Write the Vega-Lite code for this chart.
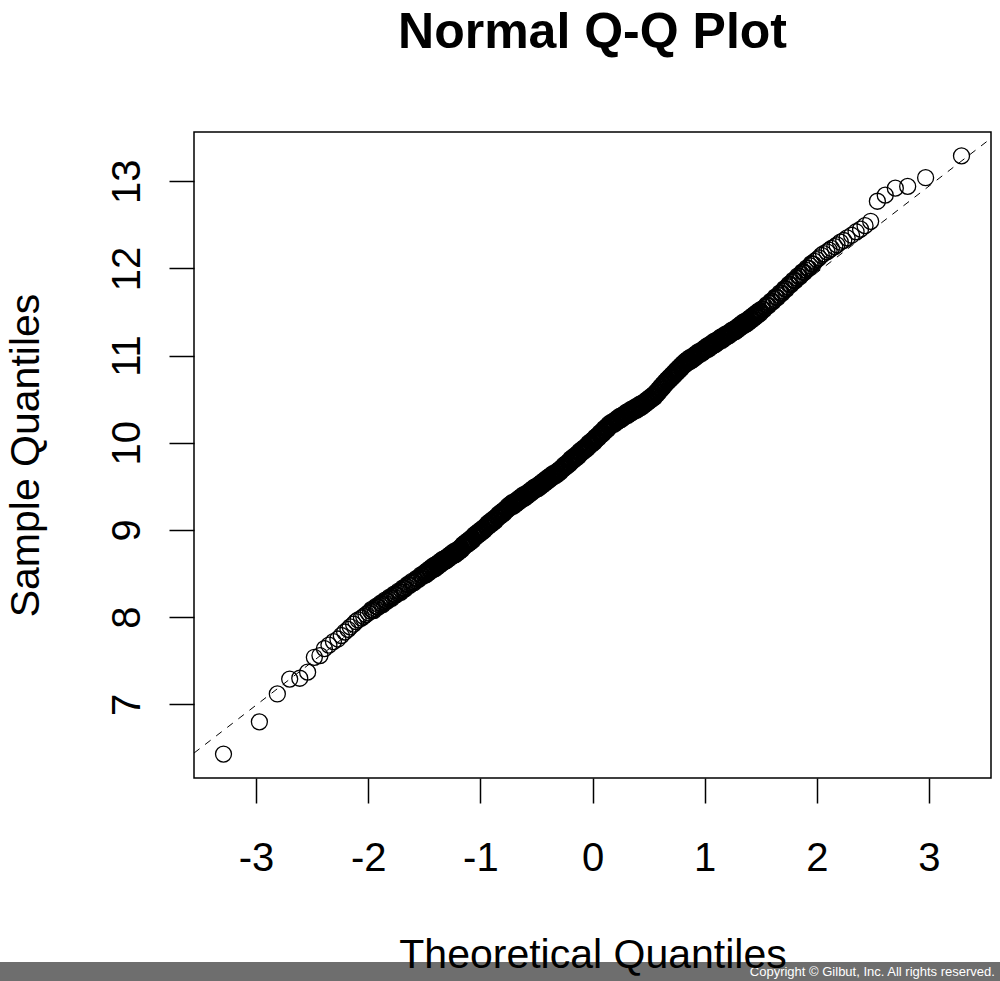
{
"$schema": "https://vega.github.io/schema/vega-lite/v6.json",
"width": 797, "height": 646,
"autosize": {"type": "none"},
"padding": {"left": 194, "top": 132, "right": 9, "bottom": 203},
"background": "white",
"title": {"text": "Normal Q-Q Plot", "font": "Liberation Sans", "fontSize": 50, "fontWeight": "bold", "color": "black", "anchor": "middle", "frame": "group", "baseline": "alphabetic", "offset": 34},
"config": {
 "view": {"stroke": "black", "strokeWidth": 1.5},
 "axis": {"domain": false, "grid": false, "tickColor": "black", "tickWidth": 1.5, "tickSize": 25, "labelFont": "Liberation Sans", "labelFontSize": 40, "labelColor": "black", "titleFont": "Liberation Sans", "titleFontSize": 41, "titleFontWeight": "normal", "titleColor": "black", "labelOverlap": false, "labelFlush": false}
},
"datasets": {
 "pts": [
{"x":-3.29,"y":6.43},{"x":-2.97,"y":6.8},{"x":-2.81,"y":7.12},{"x":-2.7,"y":7.29},{"x":-2.61,"y":7.3},{"x":-2.54,"y":7.37},{"x":-2.48,"y":7.54},{"x":-2.43,"y":7.56},{"x":-2.39,"y":7.64},{"x":-2.35,"y":7.68},{"x":-2.31,"y":7.72},{"x":-2.27,"y":7.75},{"x":-2.24,"y":7.79},{"x":-2.21,"y":7.83},{"x":-2.18,"y":7.86},{"x":-2.16,"y":7.89},{"x":-2.13,"y":7.92},{"x":-2.11,"y":7.95},{"x":-2.09,"y":7.97},{"x":-2.06,"y":7.99},{"x":-2.04,"y":8.01},{"x":-2.02,"y":8.03},{"x":-2.0,"y":8.05},
{"x":-1.98,"y":8.07},{"x":-1.96,"y":8.08},{"x":-1.94,"y":8.1},{"x":-1.92,"y":8.12},{"x":-1.9,"y":8.14},{"x":-1.88,"y":8.15},{"x":-1.86,"y":8.17},{"x":-1.84,"y":8.19},{"x":-1.82,"y":8.21},{"x":-1.8,"y":8.22},{"x":-1.78,"y":8.24},{"x":-1.76,"y":8.26},{"x":-1.74,"y":8.28},{"x":-1.72,"y":8.29},{"x":-1.7,"y":8.31},{"x":-1.68,"y":8.33},{"x":-1.66,"y":8.35},{"x":-1.64,"y":8.37},{"x":-1.62,"y":8.39},{"x":-1.6,"y":8.4},{"x":-1.58,"y":8.42},{"x":-1.56,"y":8.44},{"x":-1.54,"y":8.46},{"x":-1.52,"y":8.48},
{"x":-1.97,"y":8.09},{"x":-1.95,"y":8.075},{"x":-1.93,"y":8.125},{"x":-1.91,"y":8.115},{"x":-1.89,"y":8.16},{"x":-1.87,"y":8.145},{"x":-1.85,"y":8.195},{"x":-1.83,"y":8.185},{"x":-1.81,"y":8.23},{"x":-1.79,"y":8.215},{"x":-1.77,"y":8.265},{"x":-1.75,"y":8.255},{"x":-1.73,"y":8.3},{"x":-1.71,"y":8.285},{"x":-1.69,"y":8.335},{"x":-1.67,"y":8.325},{"x":-1.65,"y":8.375},{"x":-1.63,"y":8.365},{"x":-1.61,"y":8.41},{"x":-1.59,"y":8.395},{"x":-1.57,"y":8.445},{"x":-1.55,"y":8.435},{"x":-1.53,"y":8.485},{"x":-1.51,"y":8.47},
{"x":-1.5,"y":8.49},{"x":-1.49,"y":8.5},{"x":-1.48,"y":8.51},{"x":-1.47,"y":8.52},{"x":-1.46,"y":8.53},{"x":-1.45,"y":8.54},{"x":-1.44,"y":8.55},{"x":-1.43,"y":8.56},{"x":-1.42,"y":8.57},{"x":-1.41,"y":8.57},{"x":-1.4,"y":8.58},{"x":-1.39,"y":8.59},{"x":-1.38,"y":8.6},{"x":-1.37,"y":8.61},{"x":-1.36,"y":8.62},{"x":-1.35,"y":8.63},{"x":-1.34,"y":8.64},{"x":-1.33,"y":8.65},{"x":-1.32,"y":8.65},{"x":-1.31,"y":8.66},{"x":-1.3,"y":8.67},{"x":-1.29,"y":8.68},{"x":-1.28,"y":8.69},{"x":-1.27,"y":8.7},{"x":-1.26,"y":8.71},{"x":-1.25,"y":8.72},{"x":-1.24,"y":8.73},{"x":-1.23,"y":8.73},{"x":-1.22,"y":8.74},{"x":-1.21,"y":8.75},{"x":-1.2,"y":8.76},
{"x":-1.19,"y":8.77},{"x":-1.18,"y":8.78},{"x":-1.17,"y":8.79},{"x":-1.16,"y":8.81},{"x":-1.15,"y":8.82},{"x":-1.14,"y":8.83},{"x":-1.13,"y":8.84},{"x":-1.12,"y":8.85},{"x":-1.11,"y":8.86},{"x":-1.1,"y":8.87},{"x":-1.09,"y":8.88},{"x":-1.08,"y":8.89},{"x":-1.07,"y":8.9},{"x":-1.06,"y":8.92},{"x":-1.05,"y":8.93},{"x":-1.04,"y":8.94},{"x":-1.03,"y":8.95},{"x":-1.02,"y":8.96},{"x":-1.01,"y":8.97},{"x":-1.0,"y":8.98},
{"x":-0.99,"y":8.99},{"x":-0.98,"y":9.0},{"x":-0.97,"y":9.01},{"x":-0.96,"y":9.02},{"x":-0.95,"y":9.04},{"x":-0.94,"y":9.05},{"x":-0.93,"y":9.06},{"x":-0.92,"y":9.07},{"x":-0.91,"y":9.08},{"x":-0.9,"y":9.09},{"x":-0.89,"y":9.1},{"x":-0.88,"y":9.11},{"x":-0.87,"y":9.12},{"x":-0.86,"y":9.13},{"x":-0.85,"y":9.15},{"x":-0.84,"y":9.16},{"x":-0.83,"y":9.17},{"x":-0.82,"y":9.18},{"x":-0.81,"y":9.19},{"x":-0.8,"y":9.2},{"x":-0.79,"y":9.21},{"x":-0.78,"y":9.22},{"x":-0.77,"y":9.24},{"x":-0.76,"y":9.25},{"x":-0.75,"y":9.26},
{"x":-0.74,"y":9.27},{"x":-0.73,"y":9.28},{"x":-0.72,"y":9.29},{"x":-0.71,"y":9.29},{"x":-0.7,"y":9.3},{"x":-0.69,"y":9.31},{"x":-0.68,"y":9.32},{"x":-0.67,"y":9.33},{"x":-0.66,"y":9.34},{"x":-0.65,"y":9.35},{"x":-0.64,"y":9.36},{"x":-0.63,"y":9.37},{"x":-0.62,"y":9.38},{"x":-0.61,"y":9.38},{"x":-0.6,"y":9.39},{"x":-0.59,"y":9.4},{"x":-0.58,"y":9.41},{"x":-0.57,"y":9.42},{"x":-0.56,"y":9.43},{"x":-0.55,"y":9.44},{"x":-0.54,"y":9.45},{"x":-0.53,"y":9.46},{"x":-0.52,"y":9.47},{"x":-0.51,"y":9.48},{"x":-0.5,"y":9.48},
{"x":-0.49,"y":9.49},{"x":-0.48,"y":9.5},{"x":-0.47,"y":9.51},{"x":-0.46,"y":9.52},{"x":-0.45,"y":9.53},{"x":-0.44,"y":9.54},{"x":-0.43,"y":9.55},{"x":-0.42,"y":9.56},{"x":-0.41,"y":9.57},{"x":-0.4,"y":9.58},{"x":-0.39,"y":9.59},{"x":-0.38,"y":9.6},{"x":-0.37,"y":9.61},{"x":-0.36,"y":9.62},{"x":-0.35,"y":9.63},{"x":-0.34,"y":9.63},{"x":-0.33,"y":9.64},{"x":-0.32,"y":9.65},{"x":-0.31,"y":9.66},{"x":-0.3,"y":9.67},
{"x":-0.29,"y":9.68},{"x":-0.28,"y":9.69},{"x":-0.27,"y":9.71},{"x":-0.26,"y":9.72},{"x":-0.25,"y":9.73},{"x":-0.24,"y":9.74},{"x":-0.23,"y":9.75},{"x":-0.22,"y":9.76},{"x":-0.21,"y":9.77},{"x":-0.2,"y":9.79},{"x":-0.19,"y":9.8},{"x":-0.18,"y":9.81},{"x":-0.17,"y":9.82},{"x":-0.16,"y":9.83},{"x":-0.15,"y":9.84},{"x":-0.14,"y":9.85},{"x":-0.13,"y":9.86},{"x":-0.12,"y":9.88},{"x":-0.11,"y":9.89},{"x":-0.1,"y":9.9},{"x":-0.09,"y":9.91},{"x":-0.08,"y":9.92},{"x":-0.07,"y":9.93},{"x":-0.06,"y":9.94},{"x":-0.05,"y":9.95},{"x":-0.04,"y":9.97},{"x":-0.03,"y":9.98},{"x":-0.02,"y":9.99},{"x":-0.01,"y":10.0},{"x":0.0,"y":10.01},
{"x":0.01,"y":10.02},{"x":0.02,"y":10.04},{"x":0.03,"y":10.05},{"x":0.04,"y":10.06},{"x":0.05,"y":10.07},{"x":0.06,"y":10.09},{"x":0.07,"y":10.1},{"x":0.08,"y":10.11},{"x":0.09,"y":10.12},{"x":0.1,"y":10.14},{"x":0.11,"y":10.15},{"x":0.12,"y":10.16},{"x":0.13,"y":10.17},{"x":0.14,"y":10.19},{"x":0.15,"y":10.2},{"x":0.16,"y":10.21},{"x":0.17,"y":10.22},{"x":0.18,"y":10.22},{"x":0.19,"y":10.23},{"x":0.2,"y":10.24},{"x":0.21,"y":10.25},{"x":0.22,"y":10.26},{"x":0.23,"y":10.27},{"x":0.24,"y":10.28},{"x":0.25,"y":10.28},{"x":0.26,"y":10.29},{"x":0.27,"y":10.3},{"x":0.28,"y":10.31},{"x":0.29,"y":10.32},{"x":0.3,"y":10.33},
{"x":0.31,"y":10.33},{"x":0.32,"y":10.34},{"x":0.33,"y":10.35},{"x":0.34,"y":10.36},{"x":0.35,"y":10.365},{"x":0.36,"y":10.37},{"x":0.37,"y":10.38},{"x":0.38,"y":10.39},{"x":0.39,"y":10.39},{"x":0.4,"y":10.4},{"x":0.41,"y":10.41},{"x":0.42,"y":10.42},{"x":0.43,"y":10.42},{"x":0.44,"y":10.43},{"x":0.45,"y":10.44},{"x":0.46,"y":10.45},{"x":0.47,"y":10.46},{"x":0.48,"y":10.47},{"x":0.49,"y":10.48},{"x":0.5,"y":10.49},{"x":0.51,"y":10.5},{"x":0.52,"y":10.51},{"x":0.53,"y":10.52},{"x":0.54,"y":10.53},{"x":0.55,"y":10.54},
{"x":0.56,"y":10.555},{"x":0.57,"y":10.57},{"x":0.58,"y":10.585},{"x":0.59,"y":10.6},{"x":0.6,"y":10.615},{"x":0.61,"y":10.63},{"x":0.62,"y":10.645},{"x":0.63,"y":10.66},{"x":0.64,"y":10.675},{"x":0.65,"y":10.69},{"x":0.66,"y":10.703},{"x":0.67,"y":10.716},{"x":0.68,"y":10.729},{"x":0.69,"y":10.742},{"x":0.7,"y":10.755},{"x":0.71,"y":10.768},{"x":0.72,"y":10.781},{"x":0.73,"y":10.794},{"x":0.74,"y":10.807},{"x":0.75,"y":10.82},{"x":0.76,"y":10.833},{"x":0.77,"y":10.846},{"x":0.78,"y":10.859},{"x":0.79,"y":10.872},{"x":0.8,"y":10.885},
{"x":0.81,"y":10.9},{"x":0.82,"y":10.91},{"x":0.83,"y":10.92},{"x":0.84,"y":10.93},{"x":0.85,"y":10.94},{"x":0.86,"y":10.95},{"x":0.87,"y":10.95},{"x":0.88,"y":10.96},{"x":0.89,"y":10.97},{"x":0.9,"y":10.98},{"x":0.91,"y":10.99},{"x":0.92,"y":11.0},{"x":0.93,"y":11.01},{"x":0.94,"y":11.02},{"x":0.95,"y":11.03},{"x":0.96,"y":11.03},{"x":0.97,"y":11.04},{"x":0.98,"y":11.05},{"x":0.99,"y":11.06},{"x":1.0,"y":11.07},
{"x":1.01,"y":11.08},{"x":1.02,"y":11.09},{"x":1.03,"y":11.09},{"x":1.04,"y":11.1},{"x":1.05,"y":11.11},{"x":1.06,"y":11.12},{"x":1.07,"y":11.13},{"x":1.08,"y":11.14},{"x":1.09,"y":11.14},{"x":1.1,"y":11.15},{"x":1.11,"y":11.16},{"x":1.12,"y":11.17},{"x":1.13,"y":11.18},{"x":1.14,"y":11.19},{"x":1.15,"y":11.19},{"x":1.16,"y":11.2},{"x":1.17,"y":11.21},{"x":1.18,"y":11.22},{"x":1.19,"y":11.23},{"x":1.2,"y":11.23},{"x":1.21,"y":11.24},{"x":1.22,"y":11.25},{"x":1.23,"y":11.26},{"x":1.24,"y":11.27},{"x":1.25,"y":11.28},{"x":1.26,"y":11.28},{"x":1.27,"y":11.29},{"x":1.28,"y":11.3},{"x":1.29,"y":11.31},{"x":1.3,"y":11.32},
{"x":1.31,"y":11.33},{"x":1.32,"y":11.34},{"x":1.33,"y":11.35},{"x":1.34,"y":11.36},{"x":1.35,"y":11.365},{"x":1.36,"y":11.37},{"x":1.37,"y":11.38},{"x":1.38,"y":11.39},{"x":1.39,"y":11.4},{"x":1.4,"y":11.41},{"x":1.41,"y":11.42},{"x":1.42,"y":11.43},{"x":1.43,"y":11.44},{"x":1.44,"y":11.45},{"x":1.45,"y":11.46},{"x":1.46,"y":11.47},{"x":1.47,"y":11.48},{"x":1.48,"y":11.49},{"x":1.49,"y":11.5},{"x":1.5,"y":11.51},
{"x":-1.495,"y":8.515},{"x":-1.485,"y":8.485},{"x":-1.475,"y":8.535},{"x":-1.465,"y":8.505},{"x":-1.455,"y":8.555},{"x":-1.445,"y":8.525},{"x":-1.435,"y":8.575},{"x":-1.425,"y":8.545},{"x":-1.415,"y":8.595},{"x":-1.405,"y":8.555},{"x":-1.395,"y":8.605},{"x":-1.385,"y":8.575},{"x":-1.375,"y":8.625},{"x":-1.365,"y":8.595},{"x":-1.355,"y":8.645},{"x":-1.345,"y":8.615},{"x":-1.335,"y":8.665},{"x":-1.325,"y":8.635},{"x":-1.315,"y":8.675},{"x":-1.305,"y":8.645},
{"x":-1.295,"y":8.695},{"x":-1.285,"y":8.665},{"x":-1.275,"y":8.715},{"x":-1.265,"y":8.685},{"x":-1.255,"y":8.735},{"x":-1.245,"y":8.705},{"x":-1.235,"y":8.755},{"x":-1.225,"y":8.715},{"x":-1.215,"y":8.765},{"x":-1.205,"y":8.735},{"x":-1.195,"y":8.785},{"x":-1.185,"y":8.755},{"x":-1.175,"y":8.805},{"x":-1.165,"y":8.775},{"x":-1.155,"y":8.835},{"x":-1.145,"y":8.805},{"x":-1.135,"y":8.855},{"x":-1.125,"y":8.825},{"x":-1.115,"y":8.875},{"x":-1.105,"y":8.845},
{"x":-1.095,"y":8.895},{"x":-1.085,"y":8.865},{"x":-1.075,"y":8.915},{"x":-1.065,"y":8.885},{"x":-1.055,"y":8.945},{"x":-1.045,"y":8.915},{"x":-1.035,"y":8.965},{"x":-1.025,"y":8.935},{"x":-1.015,"y":8.985},{"x":-1.005,"y":8.955},{"x":-0.995,"y":9.005},{"x":-0.985,"y":8.975},{"x":-0.975,"y":9.025},{"x":-0.965,"y":8.995},{"x":-0.955,"y":9.045},{"x":-0.945,"y":9.025},{"x":-0.935,"y":9.075},{"x":-0.925,"y":9.045},{"x":-0.915,"y":9.095},{"x":-0.905,"y":9.065},
{"x":-0.895,"y":9.115},{"x":-0.885,"y":9.085},{"x":-0.875,"y":9.135},{"x":-0.865,"y":9.105},{"x":-0.855,"y":9.155},{"x":-0.845,"y":9.135},{"x":-0.835,"y":9.185},{"x":-0.825,"y":9.155},{"x":-0.815,"y":9.205},{"x":-0.805,"y":9.175},{"x":-0.795,"y":9.225},{"x":-0.785,"y":9.195},{"x":-0.775,"y":9.245},{"x":-0.765,"y":9.225},{"x":-0.755,"y":9.275},{"x":-0.745,"y":9.245},{"x":-0.735,"y":9.295},{"x":-0.725,"y":9.265},{"x":-0.715,"y":9.315},{"x":-0.705,"y":9.275},
{"x":-0.695,"y":9.325},{"x":-0.685,"y":9.295},{"x":-0.675,"y":9.345},{"x":-0.665,"y":9.315},{"x":-0.655,"y":9.365},{"x":-0.645,"y":9.335},{"x":-0.635,"y":9.385},{"x":-0.625,"y":9.355},{"x":-0.615,"y":9.405},{"x":-0.605,"y":9.365},{"x":-0.595,"y":9.415},{"x":-0.585,"y":9.385},{"x":-0.575,"y":9.435},{"x":-0.565,"y":9.405},{"x":-0.555,"y":9.455},{"x":-0.545,"y":9.425},{"x":-0.535,"y":9.475},{"x":-0.525,"y":9.445},{"x":-0.515,"y":9.495},{"x":-0.505,"y":9.465},
{"x":-0.495,"y":9.505},{"x":-0.485,"y":9.475},{"x":-0.475,"y":9.525},{"x":-0.465,"y":9.495},{"x":-0.455,"y":9.545},{"x":-0.445,"y":9.515},{"x":-0.435,"y":9.565},{"x":-0.425,"y":9.535},{"x":-0.415,"y":9.585},{"x":-0.405,"y":9.555},{"x":-0.395,"y":9.605},{"x":-0.385,"y":9.575},{"x":-0.375,"y":9.625},{"x":-0.365,"y":9.595},{"x":-0.355,"y":9.645},{"x":-0.345,"y":9.615},{"x":-0.335,"y":9.655},{"x":-0.325,"y":9.625},{"x":-0.315,"y":9.675},{"x":-0.305,"y":9.645},
{"x":-0.295,"y":9.695},{"x":-0.285,"y":9.665},{"x":-0.275,"y":9.715},{"x":-0.265,"y":9.695},{"x":-0.255,"y":9.745},{"x":-0.245,"y":9.715},{"x":-0.235,"y":9.765},{"x":-0.225,"y":9.735},{"x":-0.215,"y":9.785},{"x":-0.205,"y":9.755},{"x":-0.195,"y":9.815},{"x":-0.185,"y":9.785},{"x":-0.175,"y":9.835},{"x":-0.165,"y":9.805},{"x":-0.155,"y":9.855},{"x":-0.145,"y":9.825},{"x":-0.135,"y":9.875},{"x":-0.125,"y":9.845},{"x":-0.115,"y":9.905},{"x":-0.105,"y":9.875},
{"x":-0.095,"y":9.925},{"x":-0.085,"y":9.895},{"x":-0.075,"y":9.945},{"x":-0.065,"y":9.915},{"x":-0.055,"y":9.965},{"x":-0.045,"y":9.935},{"x":-0.035,"y":9.995},{"x":-0.025,"y":9.965},{"x":-0.015,"y":10.015},{"x":-0.005,"y":9.985},{"x":0.005,"y":10.035},{"x":0.015,"y":10.005},{"x":0.025,"y":10.065},{"x":0.035,"y":10.035},{"x":0.045,"y":10.085},{"x":0.055,"y":10.055},{"x":0.065,"y":10.115},{"x":0.075,"y":10.085},{"x":0.085,"y":10.135},{"x":0.095,"y":10.105},
{"x":0.105,"y":10.165},{"x":0.115,"y":10.135},{"x":0.125,"y":10.185},{"x":0.135,"y":10.155},{"x":0.145,"y":10.215},{"x":0.155,"y":10.185},{"x":0.165,"y":10.235},{"x":0.175,"y":10.205},{"x":0.185,"y":10.245},{"x":0.195,"y":10.215},{"x":0.205,"y":10.265},{"x":0.215,"y":10.235},{"x":0.225,"y":10.285},{"x":0.235,"y":10.255},{"x":0.245,"y":10.305},{"x":0.255,"y":10.265},{"x":0.265,"y":10.315},{"x":0.275,"y":10.285},{"x":0.285,"y":10.335},{"x":0.295,"y":10.305},
{"x":0.305,"y":10.355},{"x":0.315,"y":10.315},{"x":0.325,"y":10.365},{"x":0.335,"y":10.335},{"x":0.345,"y":10.385},{"x":0.355,"y":10.35},{"x":0.365,"y":10.395},{"x":0.375,"y":10.365},{"x":0.385,"y":10.415},{"x":0.395,"y":10.375},{"x":0.405,"y":10.425},{"x":0.415,"y":10.395},{"x":0.425,"y":10.445},{"x":0.435,"y":10.405},{"x":0.445,"y":10.455},{"x":0.455,"y":10.425},{"x":0.465,"y":10.475},{"x":0.475,"y":10.445},{"x":0.485,"y":10.495},{"x":0.495,"y":10.465},
{"x":0.505,"y":10.515},{"x":0.515,"y":10.485},{"x":0.525,"y":10.535},{"x":0.535,"y":10.505},{"x":0.545,"y":10.555},{"x":0.555,"y":10.525},{"x":0.565,"y":10.58},{"x":0.575,"y":10.555},{"x":0.585,"y":10.61},{"x":0.595,"y":10.585},{"x":0.605,"y":10.64},{"x":0.615,"y":10.615},{"x":0.625,"y":10.67},{"x":0.635,"y":10.645},{"x":0.645,"y":10.7},{"x":0.655,"y":10.675},{"x":0.665,"y":10.728},{"x":0.675,"y":10.701},{"x":0.685,"y":10.754},{"x":0.695,"y":10.727},
{"x":0.705,"y":10.78},{"x":0.715,"y":10.753},{"x":0.725,"y":10.806},{"x":0.735,"y":10.779},{"x":0.745,"y":10.832},{"x":0.755,"y":10.805},{"x":0.765,"y":10.858},{"x":0.775,"y":10.831},{"x":0.785,"y":10.884},{"x":0.795,"y":10.857},{"x":0.805,"y":10.91},{"x":0.815,"y":10.885},{"x":0.825,"y":10.935},{"x":0.835,"y":10.905},{"x":0.845,"y":10.955},{"x":0.855,"y":10.925},{"x":0.865,"y":10.975},{"x":0.875,"y":10.935},{"x":0.885,"y":10.985},{"x":0.895,"y":10.955},
{"x":0.905,"y":11.005},{"x":0.915,"y":10.975},{"x":0.925,"y":11.025},{"x":0.935,"y":10.995},{"x":0.945,"y":11.045},{"x":0.955,"y":11.015},{"x":0.965,"y":11.055},{"x":0.975,"y":11.025},{"x":0.985,"y":11.075},{"x":0.995,"y":11.045},{"x":1.005,"y":11.095},{"x":1.015,"y":11.065},{"x":1.025,"y":11.115},{"x":1.035,"y":11.075},{"x":1.045,"y":11.125},{"x":1.055,"y":11.095},{"x":1.065,"y":11.145},{"x":1.075,"y":11.115},{"x":1.085,"y":11.165},{"x":1.095,"y":11.125},
{"x":1.105,"y":11.175},{"x":1.115,"y":11.145},{"x":1.125,"y":11.195},{"x":1.135,"y":11.165},{"x":1.145,"y":11.215},{"x":1.155,"y":11.175},{"x":1.165,"y":11.225},{"x":1.175,"y":11.195},{"x":1.185,"y":11.245},{"x":1.195,"y":11.215},{"x":1.205,"y":11.255},{"x":1.215,"y":11.225},{"x":1.225,"y":11.275},{"x":1.235,"y":11.245},{"x":1.245,"y":11.295},{"x":1.255,"y":11.265},{"x":1.265,"y":11.305},{"x":1.275,"y":11.275},{"x":1.285,"y":11.325},{"x":1.295,"y":11.295},
{"x":1.305,"y":11.345},{"x":1.315,"y":11.315},{"x":1.325,"y":11.365},{"x":1.335,"y":11.335},{"x":1.345,"y":11.385},{"x":1.355,"y":11.35},{"x":1.365,"y":11.395},{"x":1.375,"y":11.365},{"x":1.385,"y":11.415},{"x":1.395,"y":11.385},{"x":1.405,"y":11.435},{"x":1.415,"y":11.405},{"x":1.425,"y":11.455},{"x":1.435,"y":11.425},{"x":1.445,"y":11.475},{"x":1.455,"y":11.445},{"x":1.465,"y":11.495},{"x":1.475,"y":11.465},{"x":1.485,"y":11.515},{"x":1.495,"y":11.485},
{"x":1.51,"y":11.535},{"x":1.53,"y":11.528},{"x":1.55,"y":11.58},{"x":1.57,"y":11.573},{"x":1.59,"y":11.625},{"x":1.61,"y":11.618},{"x":1.63,"y":11.673},{"x":1.65,"y":11.665},{"x":1.67,"y":11.718},{"x":1.69,"y":11.713},{"x":1.71,"y":11.768},{"x":1.73,"y":11.763},{"x":1.75,"y":11.818},{"x":1.77,"y":11.813},{"x":1.79,"y":11.865},{"x":1.81,"y":11.86},{"x":1.83,"y":11.915},{"x":1.85,"y":11.905},{"x":1.87,"y":11.96},{"x":1.89,"y":11.955},{"x":1.91,"y":12.005},{"x":1.93,"y":12.0},{"x":1.95,"y":12.055},{"x":1.97,"y":12.05},
{"x":1.52,"y":11.53},{"x":1.54,"y":11.555},{"x":1.56,"y":11.575},{"x":1.58,"y":11.6},{"x":1.6,"y":11.62},{"x":1.62,"y":11.645},{"x":1.64,"y":11.67},{"x":1.66,"y":11.69},{"x":1.68,"y":11.715},{"x":1.7,"y":11.74},{"x":1.72,"y":11.765},{"x":1.74,"y":11.79},{"x":1.76,"y":11.815},{"x":1.78,"y":11.84},{"x":1.8,"y":11.86},{"x":1.82,"y":11.89},{"x":1.84,"y":11.91},{"x":1.86,"y":11.93},{"x":1.88,"y":11.96},{"x":1.9,"y":11.98},{"x":1.92,"y":12.0},{"x":1.94,"y":12.03},{"x":1.96,"y":12.05},{"x":1.98,"y":12.08},
{"x":2.0,"y":12.1},{"x":2.02,"y":12.12},{"x":2.04,"y":12.15},{"x":2.06,"y":12.17},{"x":2.09,"y":12.19},{"x":2.11,"y":12.21},{"x":2.13,"y":12.23},{"x":2.16,"y":12.25},{"x":2.18,"y":12.27},{"x":2.21,"y":12.3},{"x":2.24,"y":12.32},{"x":2.27,"y":12.35},{"x":2.31,"y":12.38},{"x":2.35,"y":12.42},{"x":2.39,"y":12.45},{"x":2.43,"y":12.49},{"x":2.48,"y":12.54},{"x":2.54,"y":12.77},{"x":2.61,"y":12.84},{"x":2.7,"y":12.92},{"x":2.81,"y":12.94},{"x":2.97,"y":13.04},{"x":3.29,"y":13.29}
 ],
 "qq": [{"x": -3.553, "y": 6.442}, {"x": 3.553, "y": 13.492}],
 "wm": [{"x": -5.3, "x2": 3.66, "y": 3.8, "y2": 4.046, "note": "Copyright © Gilbut, Inc. All rights reserved."}]
},
"encoding": {
 "x": {"field": "x", "type": "quantitative", "scale": {"domain": [-3.553, 3.553], "nice": false, "zero": false},
  "axis": {"title": "Theoretical Quantiles", "zindex": 1, "values": [-3,-2,-1,0,1,2,3], "labelExpr": "'' + datum.value", "labelBaseline": "alphabetic", "labelPadding": 67, "titleBaseline": "alphabetic", "titleY": 189, "titleX": 398.5, "titleAlign": "center"}},
 "y": {"field": "y", "type": "quantitative", "scale": {"domain": [6.156, 13.564], "nice": false, "zero": false},
  "axis": {"title": "Sample Quantiles", "zindex": 1, "values": [7,8,9,10,11,12,13], "labelExpr": "'' + datum.value", "labelAngle": -90, "labelAlign": "center", "labelBaseline": "alphabetic", "labelPadding": 30, "titleAngle": -90, "titleBaseline": "alphabetic", "titleX": -156, "titleY": 323, "titleAlign": "center"}}
},
"layer": [
 {"data": {"name": "wm"}, "mark": {"type": "rect", "fill": "#6e6e6e", "clip": false}, "encoding": {"x2": {"field": "x2"}, "y2": {"field": "y2"}}},
 {"data": {"name": "pts"}, "mark": {"type": "point", "shape": "circle", "filled": false, "stroke": "black", "strokeWidth": 1.3, "size": 256, "opacity": 1}},
 {"data": {"name": "qq"}, "mark": {"type": "line", "stroke": "black", "strokeWidth": 1, "strokeDash": [7, 7]}, "encoding": {}},
 {"data": {"name": "wm"}, "mark": {"type": "text", "align": "right", "baseline": "alphabetic", "color": "white", "font": "Liberation Sans Narrow, Liberation Sans", "fontSize": 13}, "encoding": {"x": {"datum": 3.588, "type": "quantitative"}, "y": {"datum": 3.885, "type": "quantitative"}, "text": {"field": "note"}}}
]
}
